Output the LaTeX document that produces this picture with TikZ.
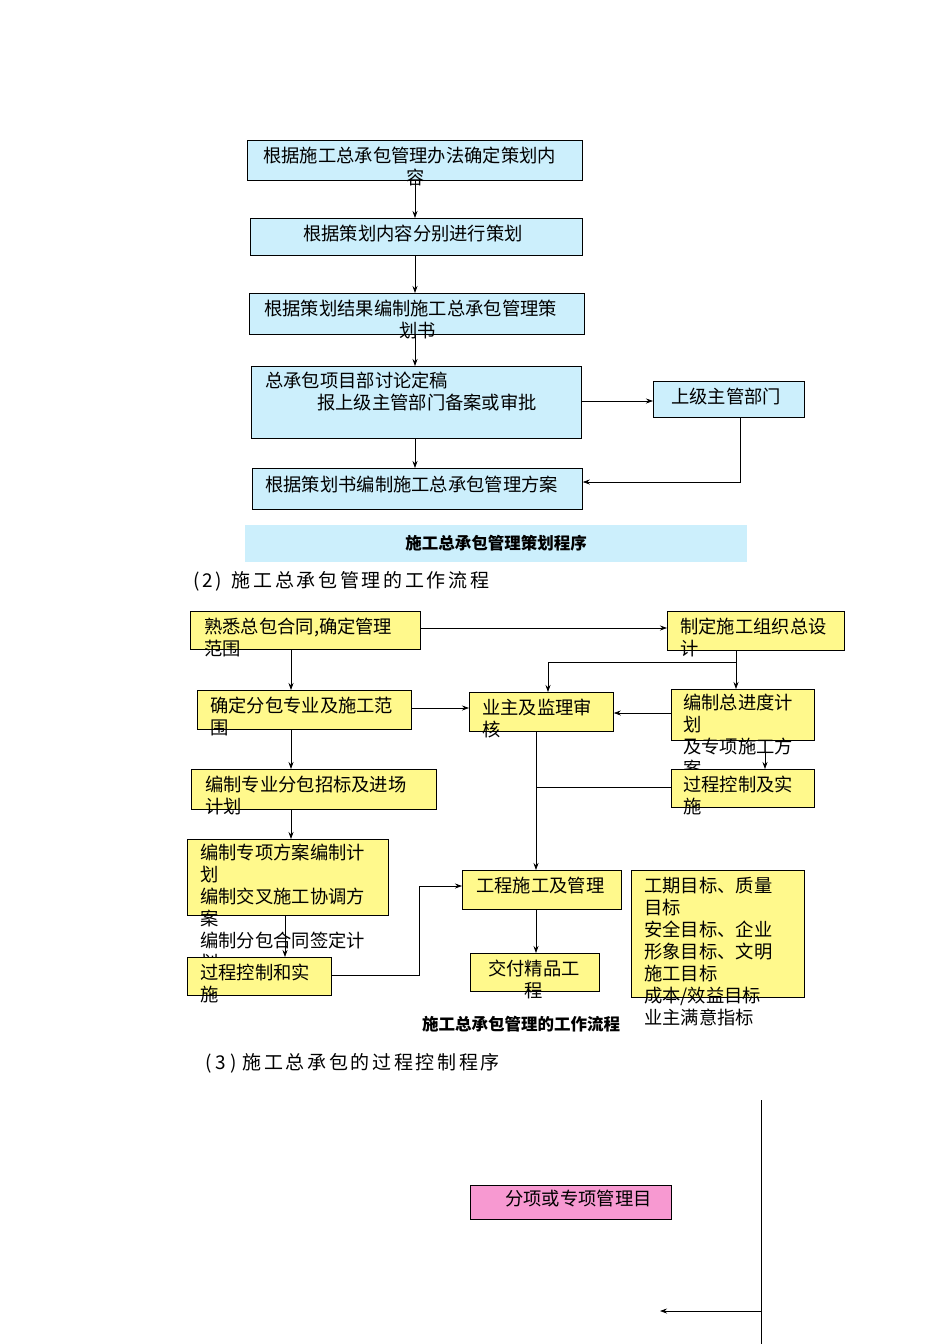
\documentclass[tikz,border=0pt]{standalone}
\usepackage{fontspec}
\setmainfont{Noto Sans CJK SC}
\usetikzlibrary{arrows.meta}
\begin{document}
\begin{tikzpicture}[x=1pt,y=-1pt,
  cb/.style={draw=black,fill=cyan!20,line width=0.8pt},
  yb/.style={draw=black,fill=yellow!45,line width=0.8pt},
  pb/.style={draw=black,fill=magenta!40,line width=0.8pt},
  tx/.style={anchor=north west,inner sep=0,align=left,font=\fontsize{18.3}{22}\selectfont},
  hd/.style={anchor=north west,inner sep=0,font=\fontsize{19}{22}\selectfont\addfontfeature{LetterSpace=14}},
  cp/.style={font=\fontsize{16.5}{20}\selectfont\bfseries},
  ar/.style={-{Stealth[length=7pt,width=5pt]},line width=0.7pt},
  ln/.style={line width=0.7pt}]
\useasboundingbox (0,0) rectangle (950,1344);
% top section
\node[cb,minimum width=335,minimum height=40,anchor=north west] (b1) at (247,140) {};
\node[tx] (t1) at (263,147) {根据施工总承包管理办法确定策划内\\\hspace*{143pt}容};
\node[cb,minimum width=332,minimum height=37,anchor=north west] (b2) at (250,218) {};
\node[tx] (t2) at (303,225) {根据策划内容分别进行策划};
\node[cb,minimum width=335,minimum height=41,anchor=north west] (b3) at (249,293) {};
\node[tx] (t3) at (264,300) {根据策划结果编制施工总承包管理策\\\hspace*{135pt}划书};
\node[cb,minimum width=330,minimum height=72,anchor=north west] (b4) at (251,366) {};
\node[tx] (t4) at (265,372) {总承包项目部讨论定稿\\\hspace*{52pt}报上级主管部门备案或审批};
\node[cb,minimum width=151,minimum height=36,anchor=north west] (b5) at (653,381) {};
\node[tx] (t5) at (671,388) {上级主管部门};
\node[cb,minimum width=330,minimum height=41,anchor=north west] (b6) at (252,468) {};
\node[tx] (t6) at (265,476) {根据策划书编制施工总承包管理方案};
\node[fill=cyan!20,minimum width=502,minimum height=37,anchor=north west,inner sep=0] (cap1) at (245,525) {};
\node[cp] (c1) at (496,543) {施工总承包管理策划程序};
\draw[ar] (415,180) -- (415,218);
\draw[ar] (415,255) -- (415,293);
\draw[ar] (415,334) -- (415,366);
\draw[ar] (b4.east|-0,401) -- (b5.west|-0,401);
\draw[ar] (415,438) -- (415,468);
\draw[ar] (740,417) -- (740,482) -- (b6.east|-0,482);
% section 2
\node[hd] (h2) at (193,571) {(2)\hspace{10pt}施工总承包管理的工作流程};
\node[yb,minimum width=230,minimum height=38,anchor=north west] (y1) at (190,611) {};
\node[tx] (ty1) at (204,618) {熟悉总包合同,确定管理\\范围};
\node[yb,minimum width=177,minimum height=39,anchor=north west] (y2) at (667,611) {};
\node[tx] (ty2) at (680,618) {制定施工组织总设\\计};
\node[yb,minimum width=214,minimum height=39,anchor=north west] (y3) at (197,690) {};
\node[tx] (ty3) at (210,697) {确定分包专业及施工范\\围};
\node[yb,minimum width=144,minimum height=39,anchor=north west] (y4) at (469,692) {};
\node[tx] (ty4) at (482,699) {业主及监理审\\核};
\node[yb,minimum width=143,minimum height=51,anchor=north west] (y5) at (671,689) {};
\node[tx] (ty5) at (683,694) {编制总进度计\\划\\及专项施工方\\案};
\node[yb,minimum width=245,minimum height=40,anchor=north west] (y6) at (191,769) {};
\node[tx] (ty6) at (205,776) {编制专业分包招标及进场\\计划};
\node[yb,minimum width=143,minimum height=38,anchor=north west] (y7) at (671,769) {};
\node[tx] (ty7) at (683,776) {过程控制及实\\施};
\node[yb,minimum width=201,minimum height=76,anchor=north west] (y8) at (187,839) {};
\node[tx] (ty8) at (200,844) {编制专项方案编制计\\划\\编制交叉施工协调方\\案\\编制分包合同签定计\\划};
\node[yb,minimum width=144,minimum height=38,anchor=north west] (y9) at (187,957) {};
\node[tx] (ty9) at (200,964) {过程控制和实\\施};
\node[yb,minimum width=159,minimum height=39,anchor=north west] (y10) at (462,870) {};
\node[tx] (ty10) at (476,877) {工程施工及管理};
\node[yb,minimum width=129,minimum height=38,anchor=north west] (y11) at (470,953) {};
\node[tx] (ty11) at (488,960) {交付精品工\\\hspace*{36pt}程};
\node[yb,minimum width=173,minimum height=127,anchor=north west] (y12) at (631,870) {};
\node[tx] (ty12) at (644,877) {工期目标、质量\\目标\\安全目标、企业\\形象目标、文明\\施工目标\\成本/效益目标\\业主满意指标};
\node[cp] (c2) at (521,1024) {施工总承包管理的工作流程};
\draw[ar] (y1.east|-0,628) -- (y2.west|-0,628);
\draw[ar] (291,649) -- (291,690);
\draw[ar] (y3.east|-0,708) -- (y4.west|-0,708);
\draw[ar] (291,729) -- (291,769);
\draw[ar] (291,809) -- (291,839);
\draw[ar] (285,915) -- (285,957);
\draw[ar] (y9.east|-0,975) -- (419,975) -- (419,886) -- (y10.west|-0,886);
\draw[ar] (736,650) -- (736,689);
\draw[ar] (736,662) -- (548,662) -- (548,692);
\draw[ar] (y5.west|-0,713) -- (y4.east|-0,713);
\draw[ar] (765,752) -- (765,769);
\draw[ln] (y7.west|-0,787) -- (536,787);
\draw[ar] (536,731) -- (536,870);
\draw[ar] (536,909) -- (536,953);
% section 3
\node[hd] (h3) at (205,1053) {(\hspace{4pt}3\hspace{4pt})\hspace{6pt}施工总承包的过程控制程序};
\draw[ln] (761,1100) -- (761,1344);
\node[pb,minimum width=201,minimum height=34,anchor=north west] (p1) at (470,1185) {};
\node[tx] (tp1) at (505,1190) {分项或专项管理目};
\coordinate (e1) at (761,1311);
\draw[ar] (e1) -- (660,1311);
\end{tikzpicture}
\end{document}
